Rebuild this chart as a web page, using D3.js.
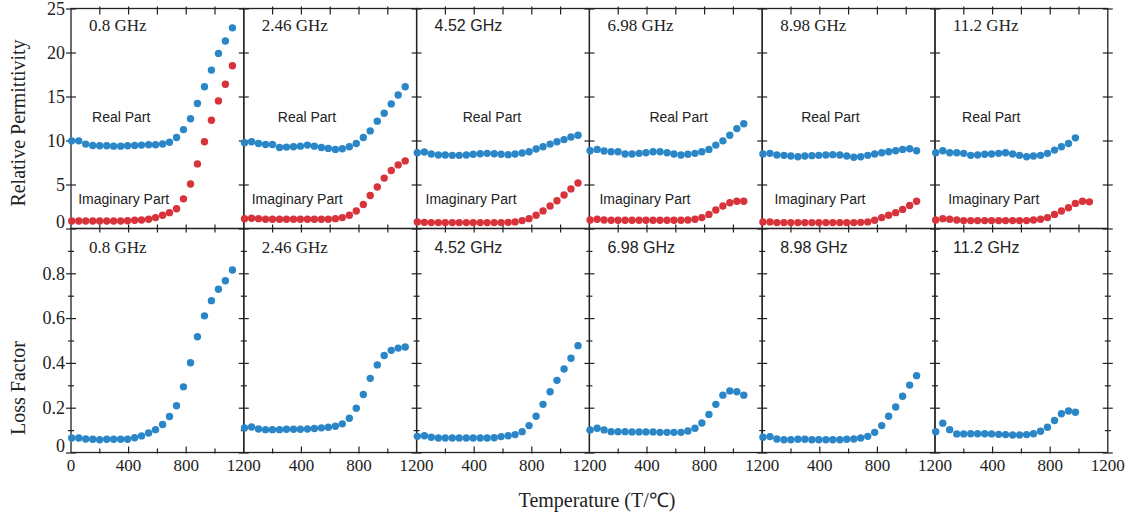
<!DOCTYPE html>
<html>
<head>
<meta charset="utf-8">
<script src="https://cdn.jsdelivr.net/npm/d3@7"></script>
<style>
  body { margin: 0; background: #fff; }
</style>
</head>
<body>
<div id="chart"></div>
<script>
/* CONSTANTS AND GLOBALS */
const width = 1134;
const height = 518;
const left = 71;
const panelW = 172.8;
const topY = 8.5, midY = 228.5, botY = 452.5;
const blue = "#2a86c6";
const red = "#d8323b";
const ink = "#222";
const serif = "'Liberation Serif', 'Times New Roman', serif";
const sans = "'Liberation Sans', Arial, sans-serif";

/* DATA */
const frequencies = ["0.8 GHz", "2.46 GHz", "4.52 GHz", "6.98 GHz", "8.98 GHz", "11.2 GHz"];
const temps = [5, 54, 102, 151, 199, 248, 296, 345, 393, 442, 490, 539, 587, 636, 684, 733, 781, 830, 878, 927, 975, 1024, 1072, 1121];

const realPart = [
  [9.96, 9.96, 9.59, 9.44, 9.4, 9.4, 9.36, 9.36, 9.4, 9.44, 9.48, 9.51, 9.51, 9.6, 9.8, 10.34, 11.24, 12.47, 14.2, 16.1, 18.0, 19.9, 21.3, 22.8],
  [9.74, 9.85, 9.66, 9.55, 9.55, 9.21, 9.25, 9.29, 9.36, 9.48, 9.36, 9.21, 9.1, 8.99, 9.06, 9.29, 9.66, 10.34, 11.09, 12.2, 13.1, 14.16, 15.17, 16.1],
  [8.61, 8.69, 8.46, 8.35, 8.35, 8.31, 8.31, 8.35, 8.43, 8.5, 8.54, 8.5, 8.43, 8.39, 8.46, 8.58, 8.73, 9.03, 9.29, 9.59, 9.85, 10.1, 10.4, 10.6],
  [8.84, 8.99, 8.8, 8.73, 8.73, 8.46, 8.46, 8.54, 8.61, 8.73, 8.73, 8.61, 8.46, 8.35, 8.43, 8.54, 8.73, 8.99, 9.48, 9.96, 10.6, 11.35, 11.9],
  [8.46, 8.54, 8.35, 8.31, 8.24, 8.16, 8.24, 8.28, 8.31, 8.35, 8.39, 8.35, 8.24, 8.09, 8.16, 8.31, 8.46, 8.61, 8.73, 8.84, 8.99, 9.06, 8.84],
  [8.61, 8.84, 8.61, 8.61, 8.54, 8.31, 8.35, 8.43, 8.46, 8.54, 8.61, 8.46, 8.31, 8.16, 8.24, 8.31, 8.54, 8.91, 9.29, 9.66, 10.3]
];

const imagPart = [
  [0.86, 0.86, 0.86, 0.86, 0.86, 0.86, 0.86, 0.86, 0.88, 0.94, 0.97, 1.05, 1.24, 1.5, 1.8, 2.25, 3.37, 5.06, 7.34, 9.85, 12.3, 14.5, 16.4, 18.5],
  [1.12, 1.16, 1.12, 1.05, 1.05, 1.05, 1.05, 1.05, 1.05, 1.05, 1.05, 1.05, 1.05, 1.12, 1.24, 1.5, 1.99, 2.73, 3.75, 4.72, 5.73, 6.59, 7.23, 7.68],
  [0.75, 0.7, 0.67, 0.67, 0.67, 0.67, 0.67, 0.67, 0.67, 0.67, 0.67, 0.67, 0.67, 0.7, 0.75, 0.9, 1.12, 1.5, 2.0, 2.55, 3.15, 3.8, 4.5, 5.17],
  [0.97, 1.05, 0.97, 0.94, 0.94, 0.94, 0.94, 0.94, 0.94, 0.94, 0.94, 0.94, 0.94, 0.94, 0.97, 1.05, 1.24, 1.6, 2.1, 2.55, 2.92, 3.1, 3.1],
  [0.75, 0.75, 0.67, 0.67, 0.67, 0.67, 0.67, 0.67, 0.67, 0.67, 0.67, 0.67, 0.67, 0.67, 0.7, 0.75, 0.94, 1.24, 1.5, 1.8, 2.17, 2.62, 3.1],
  [0.97, 1.12, 1.05, 0.97, 0.9, 0.9, 0.9, 0.9, 0.9, 0.9, 0.9, 0.9, 0.9, 0.9, 0.97, 1.05, 1.24, 1.6, 1.99, 2.36, 2.85, 3.1, 3.03]
];

const lossFactor = [
  [0.065, 0.065, 0.06, 0.059, 0.057, 0.059, 0.059, 0.059, 0.059, 0.066, 0.074, 0.087, 0.102, 0.125, 0.161, 0.209, 0.293, 0.401, 0.517, 0.61, 0.678, 0.729, 0.767, 0.815],
  [0.11, 0.114, 0.105, 0.102, 0.102, 0.102, 0.104, 0.104, 0.104, 0.105, 0.107, 0.11, 0.113, 0.117, 0.128, 0.153, 0.198, 0.259, 0.331, 0.391, 0.433, 0.456, 0.466, 0.471],
  [0.072, 0.075, 0.068, 0.065, 0.065, 0.065, 0.065, 0.065, 0.065, 0.065, 0.065, 0.066, 0.071, 0.075, 0.08, 0.093, 0.12, 0.162, 0.215, 0.271, 0.322, 0.373, 0.421, 0.477],
  [0.101, 0.108, 0.101, 0.093, 0.093, 0.093, 0.092, 0.092, 0.092, 0.092, 0.09, 0.09, 0.09, 0.09, 0.096, 0.108, 0.132, 0.17, 0.215, 0.256, 0.275, 0.271, 0.256],
  [0.068, 0.071, 0.06, 0.057, 0.057, 0.059, 0.059, 0.057, 0.057, 0.057, 0.057, 0.057, 0.059, 0.06, 0.065, 0.072, 0.09, 0.12, 0.162, 0.203, 0.251, 0.301, 0.343],
  [0.093, 0.131, 0.102, 0.083, 0.083, 0.084, 0.084, 0.084, 0.083, 0.081, 0.08, 0.078, 0.078, 0.08, 0.084, 0.095, 0.113, 0.143, 0.173, 0.185, 0.18]
];

const xTicks = [0, 400, 800, 1200];
const xMinor = [200, 600, 1000];
const permTicks = [0, 5, 10, 15, 20, 25];
const lossTicks = [0, 0.2, 0.4, 0.6, 0.8];
const lossMinor = [0.1, 0.3, 0.5, 0.7, 0.9];

// where the "Real Part" label sits in each panel (°C)
const realLabelT = [146, 236, 320, 417, 271, 188];
const imagLabelT = [50, 55, 62, 70, 85, 92];
// frequency labels that were set in a sans face
const sansTop = ["4.52 GHz"];
const sansBottom = ["4.52 GHz", "6.98 GHz", "8.98 GHz", "11.2 GHz"];

/* SCALES */
const yPerm = d3.scaleLinear().domain([0, 25]).range([midY, topY]);
const yLoss = d3.scaleLinear().domain([0, 1]).range([botY, midY]);

/* HTML ELEMENTS */
const svg = d3.select("#chart")
  .append("svg")
  .attr("width", width)
  .attr("height", height)
  .style("background", "#fff");

function yTicks(x, y, values, len, labels, fmt) {
  const g = svg.append("g")
    .attr("transform", `translate(${x},0)`)
    .call(d3.axisLeft(y).tickValues(values).tickSize(0)
      .tickFormat(labels ? fmt : ""));
  // axis() sets its own font, so override after the call
  g.attr("font-family", serif).attr("font-size", 18);
  g.select(".domain").remove();
  g.selectAll(".tick line").attr("x1", -len).attr("x2", len).attr("stroke", ink).attr("stroke-width", 1.2);
  g.selectAll(".tick text").attr("x", -6).attr("fill", ink)
    .attr("dy", d => d === 0 ? "-0.05em" : "0.32em");
}

function xTickMarks(y, x, values, y1, y2) {
  svg.append("g").selectAll("line")
    .data(values)
    .join("line")
    .attr("x1", d => x(d)).attr("x2", d => x(d))
    .attr("y1", y + y1).attr("y2", y + y2)
    .attr("stroke", ink).attr("stroke-width", 1.2);
}

frequencies.forEach((freq, i) => {
  const x0 = left + i * panelW;
  const x = d3.scaleLinear().domain([0, 1200]).range([x0, x0 + panelW]);

  // frames
  [[topY, midY], [midY, botY]].forEach(([a, b]) => {
    svg.append("rect")
      .attr("x", x0).attr("y", a)
      .attr("width", panelW).attr("height", b - a)
      .attr("fill", "none").attr("stroke", ink).attr("stroke-width", 1.3);
  });

  // y ticks on the left edge (labels only on the first panel)
  yTicks(x0, yPerm, permTicks, 5, i === 0, d3.format("d"));
  yTicks(x0, yLoss, lossTicks, 5, i === 0, d => d === 0 ? "0" : d3.format(".1f")(d));
  yTicks(x0, yLoss, lossMinor, 3, false);
  if (i === frequencies.length - 1) {
    yTicks(x0 + panelW, yPerm, permTicks, 5, false);
    yTicks(x0 + panelW, yLoss, lossTicks, 5, false);
    yTicks(x0 + panelW, yLoss, lossMinor, 3, false);
  }

  // x ticks
  const inner = [200, 400, 600, 800, 1000];
  xTickMarks(topY, x, inner, -2, 6);
  xTickMarks(midY, x, inner, -4, 4);
  xTickMarks(botY, x, [400, 800], 1, -6);
  xTickMarks(botY, x, xMinor, 1, -4);

  // x tick labels
  svg.append("g").selectAll("text")
    .data(i === 0 ? xTicks : xTicks.slice(1))
    .join("text")
    .attr("x", d => x(d))
    .attr("y", botY + 18)
    .attr("text-anchor", "middle")
    .attr("font-family", serif)
    .attr("font-size", 17)
    .attr("fill", ink)
    .text(d => d);

  // dots
  const real = realPart[i].map((v, k) => ({ t: temps[k], v }));
  const imag = imagPart[i].map((v, k) => ({ t: temps[k], v }));
  const loss = lossFactor[i].map((v, k) => ({ t: temps[k], v }));

  svg.append("g").selectAll("circle")
    .data(real).join("circle")
    .attr("cx", d => x(d.t)).attr("cy", d => yPerm(d.v))
    .attr("r", 3.7).attr("fill", blue);

  svg.append("g").selectAll("circle")
    .data(imag).join("circle")
    .attr("cx", d => x(d.t)).attr("cy", d => yPerm(d.v))
    .attr("r", 3.7).attr("fill", red);

  svg.append("g").selectAll("circle")
    .data(loss).join("circle")
    .attr("cx", d => x(d.t)).attr("cy", d => yLoss(d.v))
    .attr("r", 3.7).attr("fill", blue);

  // panel labels
  svg.append("text")
    .attr("x", x0 + 18).attr("y", 31)
    .attr("font-family", sansTop.includes(freq) ? sans : serif)
    .attr("font-size", sansTop.includes(freq) ? 16 : 17)
    .attr("fill", ink)
    .text(freq);

  svg.append("text")
    .attr("x", x0 + 18).attr("y", 253)
    .attr("font-family", sansBottom.includes(freq) ? sans : serif)
    .attr("font-size", sansBottom.includes(freq) ? 16 : 17)
    .attr("fill", ink)
    .text(freq);

  svg.append("text")
    .attr("x", x(realLabelT[i])).attr("y", 122)
    .attr("font-family", sans).attr("font-size", 14)
    .attr("fill", ink)
    .text("Real Part");

  svg.append("text")
    .attr("x", x(imagLabelT[i])).attr("y", 204)
    .attr("font-family", sans).attr("font-size", 14)
    .attr("fill", ink)
    .text("Imaginary Part");
});

/* AXIS TITLES */
svg.append("text")
  .attr("transform", "translate(25,123) rotate(-90)")
  .attr("text-anchor", "middle")
  .attr("font-family", serif).attr("font-size", 20)
  .attr("fill", ink)
  .text("Relative Permittivity");

svg.append("text")
  .attr("transform", "translate(25,388) rotate(-90)")
  .attr("text-anchor", "middle")
  .attr("font-family", serif).attr("font-size", 20)
  .attr("fill", ink)
  .text("Loss Factor");

svg.append("text")
  .attr("x", 597).attr("y", 507)
  .attr("text-anchor", "middle")
  .attr("font-family", serif).attr("font-size", 20)
  .attr("fill", ink)
  .text("Temperature (T/℃)");
</script>
</body>
</html>
